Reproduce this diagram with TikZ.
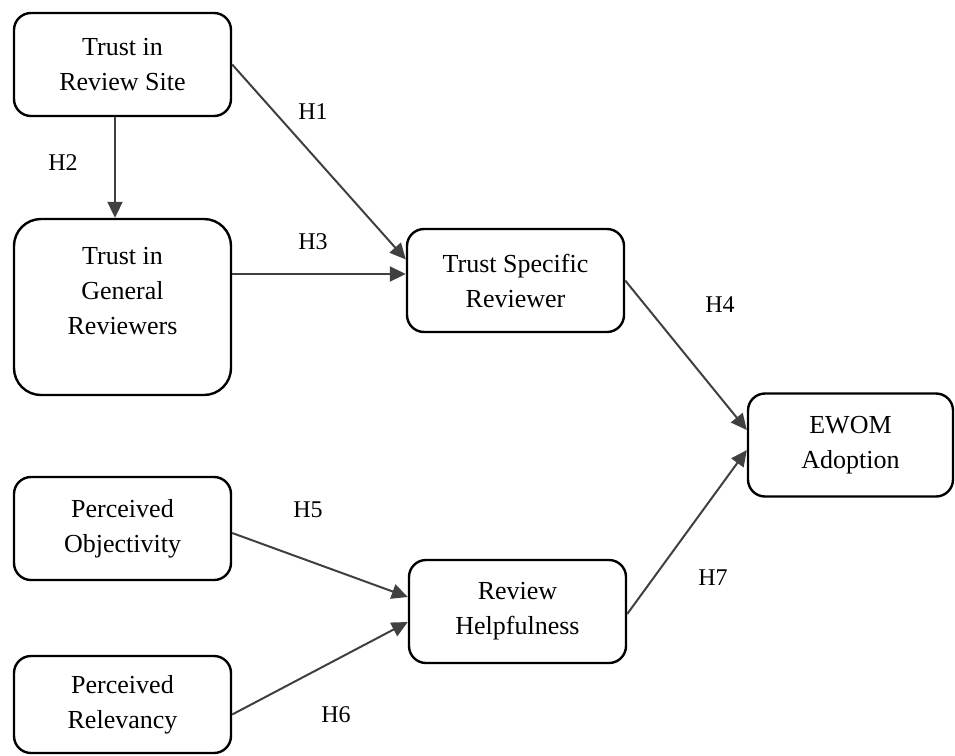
\documentclass[tikz,border=0pt]{standalone}
\usepackage{fontspec}
\setmainfont{Liberation Serif}
\usetikzlibrary{arrows.meta}
\definecolor{linkgray}{HTML}{404040}
\begin{document}
\begin{tikzpicture}[x=1pt,y=-1pt,
  construct/.style={draw=black, line width=2.4pt, rounded corners=17pt,
    minimum width=217pt, minimum height=103pt, inner sep=0pt, align=center,
    font=\fontsize{26pt}{35pt}\selectfont},
  boxtext/.style={inner sep=0pt, align=center, font=\fontsize{26pt}{35pt}\selectfont},
  link/.style={draw=linkgray, line width=2pt, -{Triangle[length=16pt,width=15pt]}},
  hyp/.style={inner sep=0pt, font=\fontsize{24pt}{28pt}\selectfont}]
\useasboundingbox (0,0) rectangle (955,755);

% constructs
\node[construct] (A) at (122.5,64.5) {Trust in\\Review Site};
\node[construct, minimum height=176pt, rounded corners=27pt] (B) at (122.5,307) {};
\node[boxtext] (Bt) at (122.5,291) {Trust in\\General\\Reviewers};
\node[construct] (C) at (515.5,280.5) {Trust Specific\\Reviewer};
\node[construct, minimum width=205pt] (D) at (850.5,445) {EWOM\\Adoption};
\node[construct] (E) at (122.5,528.5) {Perceived\\Objectivity};
\node[construct] (F) at (517.5,611.5) {Review\\Helpfulness};
\node[construct, minimum height=97pt] (G) at (122.5,704.5) {Perceived\\Relevancy};

% hypothesised paths
\draw[link] (A.east) -- ([yshift=21pt]C.west);
\draw[link] ([xshift=-7.5pt]A.south) -- ([xshift=-7.5pt]B.north);
\draw[link] ([yshift=33pt]B.east) -- ([yshift=6.5pt]C.west);
\draw[link] (C.east) -- ([yshift=15pt]D.west);
\draw[link] ([yshift=-4.5pt]E.east) -- ([yshift=14.5pt]F.west);
\draw[link] ([yshift=-10pt]G.east) -- ([yshift=-10.5pt]F.west);
\draw[link] ([yshift=-2.5pt]F.east) -- ([yshift=-5pt]D.west);

% path labels
\node[hyp] (h1) at (313,112) {H1};
\node[hyp] (h2) at (63,163) {H2};
\node[hyp] (h3) at (313,242) {H3};
\node[hyp] (h4) at (720,305) {H4};
\node[hyp] (h5) at (308,510) {H5};
\node[hyp] (h6) at (336,715) {H6};
\node[hyp] (h7) at (713,578) {H7};
\end{tikzpicture}
\end{document}
